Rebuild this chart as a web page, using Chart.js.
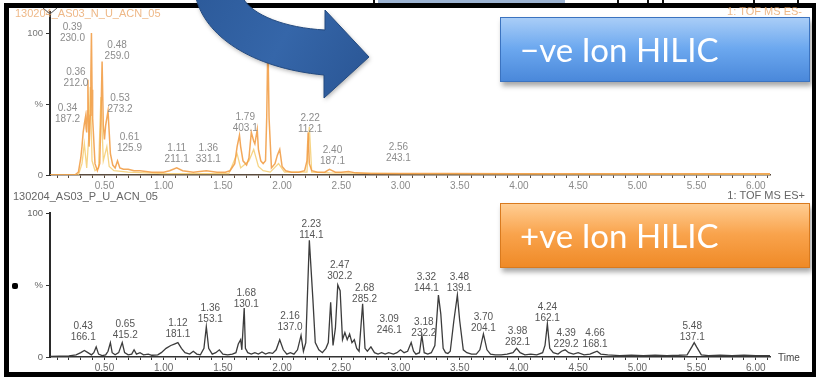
<!DOCTYPE html>
<html>
<head>
<meta charset="utf-8">
<script src="https://cdn.jsdelivr.net/npm/chart.js@4.4.1/dist/chart.umd.min.js"></script>
<style>
  html, body { margin: 0; padding: 0; background: #fff; }
  body { width: 816px; height: 379px; position: relative; overflow: hidden; font-family: "Liberation Sans", Arial, sans-serif; }
  .frame { position: absolute; left: 4px; top: 3px; width: 812px; height: 374px; box-sizing: border-box;
           border: 5px solid #000; border-right-width: 4px; border-top-width: 5px; }
  .strip { position: absolute; top: 0; height: 4px; }
  #negChart { position: absolute; left: 0; top: 0; }
  #posChart { position: absolute; left: 0; top: 190px; }
  .bullet { position: absolute; left: 12px; top: 283px; width: 6px; height: 6px; background: #000; border-radius: 2px; }
  .tag { position: absolute; left: 500px; width: 310px; height: 65px; box-sizing: border-box; color: #fff;
         font-family: Lato, "Open Sans", sans-serif; font-size: 33px; line-height: 63px; padding-left: 19px;
         box-shadow: 2px 4px 5px rgba(0,0,0,0.35); white-space: nowrap; }
  .tag.neg { top: 17px; background: linear-gradient(#a9cdf7, #6ca8ef 48%, #4a88da); border: 1px solid #3b73c0; }
  .tag.pos { top: 203px; background: linear-gradient(#ffcd92, #f9a34c 48%, #ef8a27); border: 1px solid #d97a1e; }
</style>
</head>
<body>
<div class="strip" style="left:378px;width:187px;background:#9cb3d2;"></div>
<div class="strip" style="left:373px;width:2px;background:#111;"></div>
<div class="strip" style="left:617px;width:2px;background:#111;"></div>
<div class="strip" style="left:647px;width:2px;background:#111;"></div>
<div class="strip" style="left:662px;width:2px;background:#111;"></div>
<div class="strip" style="left:753px;width:2px;background:#111;"></div>
<div class="strip" style="left:797px;width:2px;background:#111;"></div>
<div class="frame"></div>
<canvas id="negChart" width="816" height="192"></canvas>
<canvas id="posChart" width="816" height="189"></canvas>
<div class="bullet"></div>
<div class="tag neg">&minus;ve Ion HILIC</div>
<div class="tag pos">+ve Ion HILIC</div>

<script>
// Retention-time axis labels (minutes)
const xTickLabels = ['0.50','1.00','1.50','2.00','2.50','3.00','3.50','4.00','4.50','5.00','5.50','6.00'];
const yTickValues = [0, 50, 100];
const yTickLabels = ['0', '%', '100'];

// ES- run: main trace [time, % intensity]
const negTrace = [
  [0.04,0],[0.25,0],[0.28,2],[0.30,12],[0.31,20],[0.32,30],[0.33,36],[0.34,41],[0.345,33],[0.35,30],
  [0.355,45],[0.36,67],[0.365,40],[0.37,20],[0.38,42],[0.385,70],[0.39,100],[0.395,60],[0.40,40],[0.42,8],
  [0.44,3],[0.46,8],[0.47,40],[0.48,80],[0.49,35],[0.50,25],[0.51,35],[0.52,40],[0.53,45],[0.54,30],
  [0.55,15],[0.57,7],[0.59,5],[0.61,10],[0.63,5],[0.66,4],[0.70,4],[0.75,3],[0.80,3],[0.90,2],
  [1.00,2],[1.05,3],[1.11,5],[1.16,3],[1.25,2],[1.36,3],[1.45,2],[1.52,2],[1.56,3],[1.60,8],
  [1.62,20],[1.64,28],[1.65,20],[1.67,10],[1.70,7],[1.72,12],[1.74,30],[1.76,24],[1.77,22],[1.79,32],
  [1.80,18],[1.82,10],[1.84,8],[1.86,10],[1.87,40],[1.88,96],[1.89,40],[1.91,5],[1.94,8],[1.96,14],
  [1.98,18],[2.00,6],[2.03,3],[2.08,2],[2.14,2],[2.19,3],[2.21,10],[2.22,30],[2.23,8],[2.25,3],
  [2.30,2],[2.36,2],[2.40,4],[2.45,2],[2.50,2],[2.56,2.5],[2.62,1.5],[2.75,1],[3.00,1],[3.40,1],
  [4.00,0.8],[5.00,0.8],[6.12,0.8]
];
// ES- run: second (overlaid) trace
const negAltTrace = [
  [0.04,0],[0.28,0],[0.31,8],[0.33,22],[0.35,5],[0.37,30],[0.38,62],[0.395,10],[0.42,3],[0.45,5],
  [0.47,55],[0.49,10],[0.52,20],[0.54,6],[0.58,3],[0.70,2],[1.00,1],[1.55,1],[1.62,15],[1.65,5],
  [1.72,10],[1.76,18],[1.80,6],[1.84,3],[1.90,2],[1.97,8],[2.02,2],[2.21,2],[2.23,34],[2.25,2],
  [2.40,1.5],[3.00,1],[6.12,0.5]
];
// ES+ run trace
const posTrace = [
  [0.04,0.5],[0.20,0.8],[0.26,1.5],[0.30,3],[0.33,4.5],[0.36,3],[0.39,1.5],[0.41,3],[0.43,7],[0.45,2],
  [0.48,1],[0.51,1.5],[0.53,4],[0.55,10],[0.565,3],[0.59,1.5],[0.62,3],[0.65,10],[0.67,3],[0.70,1.5],
  [0.73,2],[0.75,5],[0.77,2],[0.80,3],[0.83,1.5],[0.87,2],[0.90,1.2],[0.95,1.5],[0.98,3],[1.02,6],
  [1.06,8],[1.09,9],[1.12,10],[1.15,6],[1.18,3],[1.22,2],[1.25,4],[1.28,2],[1.31,1.5],[1.34,6],
  [1.36,21],[1.38,6],[1.41,2],[1.44,3],[1.47,5],[1.50,2],[1.54,1.5],[1.58,2],[1.61,3],[1.63,9],
  [1.65,12],[1.66,5],[1.68,34],[1.69,6],[1.71,3],[1.74,2],[1.77,3],[1.80,2],[1.83,3.5],[1.86,2],
  [1.89,3],[1.92,2.5],[1.95,5],[1.98,12],[2.01,5],[2.04,2],[2.07,3],[2.10,2],[2.13,5],[2.16,15],
  [2.18,4],[2.20,10],[2.23,81],[2.26,40],[2.28,10],[2.31,5],[2.34,3],[2.37,6],[2.39,10],[2.41,38],
  [2.43,8],[2.45,20],[2.47,50],[2.49,46],[2.51,12],[2.53,17],[2.55,12],[2.57,16],[2.59,10],[2.61,12],
  [2.63,6],[2.65,4],[2.68,37],[2.70,6],[2.72,4],[2.75,7],[2.78,3],[2.81,2],[2.84,3],[2.87,2],
  [2.90,3],[2.94,2],[2.97,3],[3.00,5],[3.03,3],[3.06,4],[3.09,10],[3.11,4],[3.13,2],[3.16,3],
  [3.18,15],[3.20,3],[3.23,2],[3.26,3],[3.29,8],[3.32,43],[3.34,30],[3.36,6],[3.38,3],[3.40,2.5],
  [3.42,4],[3.45,25],[3.48,43],[3.50,25],[3.53,5],[3.56,3],[3.60,2],[3.64,2],[3.67,5],[3.70,16],
  [3.73,5],[3.76,2],[3.80,1.5],[3.85,1.5],[3.90,2],[3.95,3],[3.98,6],[4.01,3],[4.05,1.5],[4.10,2],
  [4.15,1.5],[4.20,3],[4.22,8],[4.24,23],[4.26,6],[4.29,3],[4.33,2],[4.36,4],[4.39,5],[4.42,3],
  [4.46,2],[4.50,3],[4.55,1.5],[4.60,2],[4.63,3],[4.66,4],[4.69,2],[4.75,1.5],[4.85,1],[4.95,1.2],
  [5.05,1],[5.15,1.3],[5.25,1],[5.35,1.2],[5.42,1.5],[5.46,7],[5.48,10],[5.50,7],[5.54,1.5],[5.60,1],
  [5.70,1.3],[5.80,1],[5.90,1.2],[6.00,1],[6.12,1]
];

// Annotated peaks: retention time and base m/z
const negPeakRT = [0.34, 0.36, 0.39, 0.48, 0.53, 0.61, 1.11, 1.36, 1.79, 2.22, 2.40, 2.56];
const negPeakMz = [187.2, 212.0, 230.0, 259.0, 273.2, 125.9, 211.1, 331.1, 403.1, 112.1, 187.1, 243.1];
const posPeakRT = [0.43, 0.65, 1.12, 1.36, 1.68, 2.16, 2.23, 2.47, 2.68, 3.09, 3.18, 3.32, 3.48, 3.70, 3.98, 4.24, 4.39, 4.66, 5.48];
const posPeakMz = [166.1, 415.2, 181.1, 153.1, 130.1, 137.0, 114.1, 302.2, 285.2, 246.1, 232.2, 144.1, 139.1, 204.1, 282.1, 162.1, 229.2, 168.1, 137.1];

// Label placement offsets (px) so neighbouring annotations do not collide
const negLabelShift = [[-18,10],[-12,11],[-19,13],[15,3],[12,6],[12,-5],[0,-1],[2,-3],[-12,7],[2,5],[3,0],[50,-5]];
const posLabelShift = [[-13,-2],[3,1],[0,0],[4,0],[2,4],[-11,0],[2,3],[2,-1],[2,4],[-22,-4],[2,6],[-12,1],[2,1],[0,2],[1,2],[0,2],[1,2],[-2,1],[-2,3]];

const FONT = '"Liberation Sans", Arial, sans-serif';
const toPoints = tr => tr.map(([t, v]) => ({ x: t, y: v }));

const peakLabels = {
  id: 'peakLabels',
  afterDatasetsDraw(chart, args, opts) {
    const { ctx, scales: { x, y } } = chart;
    const data = chart.data.datasets[0].data;
    ctx.save();
    ctx.font = '10px ' + FONT;
    ctx.fillStyle = opts.color;
    ctx.textAlign = 'center';
    ctx.textBaseline = 'middle';
    opts.rt.forEach((rt, i) => {
      const apex = data.reduce((b, d) => Math.abs(d.x - rt) < Math.abs(b.x - rt) ? d : b);
      const px = x.getPixelForValue(rt);
      const py = y.getPixelForValue(apex.y);
      const [dx, dy] = opts.shift[i] || [0, 0];
      const ly = py - 19 + dy;
      ctx.fillText(rt.toFixed(2), px + dx, ly);
      ctx.fillText(opts.mz[i].toFixed(1), px + dx, ly + 11);
    });
    ctx.restore();
  }
};

const headerText = {
  id: 'headerText',
  afterDraw(chart, args, opts) {
    const ctx = chart.ctx;
    ctx.save();
    ctx.font = '11px ' + FONT;
    ctx.textBaseline = 'middle';
    ctx.fillStyle = opts.color;
    ctx.textAlign = 'left';
    ctx.fillText(opts.run, opts.runX, opts.runY);
    ctx.textAlign = 'right';
    ctx.fillText(opts.fn, opts.fnX, opts.fnY);
    if (opts.time) {
      ctx.font = '10px ' + FONT;
      ctx.fillStyle = '#444';
      ctx.textAlign = 'left';
      ctx.fillText('Time', 778, chart.chartArea.bottom + 1);
    }
    ctx.restore();
  }
};

// Curved callout arrow and axis cap drawn over the ES- panel
const overlayArrow = {
  id: 'overlayArrow',
  afterDraw(chart) {
    const ctx = chart.ctx;
    ctx.save();
    ctx.strokeStyle = '#555';
    ctx.lineWidth = 1;
    ctx.beginPath();
    ctx.moveTo(43, 8); ctx.lineTo(50, 14); ctx.lineTo(57, 8);
    ctx.stroke();

    const g = ctx.createLinearGradient(200, 0, 360, 90);
    g.addColorStop(0, '#2d5b9b');
    g.addColorStop(0.5, '#3566a9');
    g.addColorStop(1, '#2b5796');
    ctx.shadowColor = 'rgba(0,0,0,0.3)';
    ctx.shadowBlur = 4;
    ctx.shadowOffsetX = 1;
    ctx.shadowOffsetY = 2;
    ctx.beginPath();
    ctx.moveTo(196, -2);
    ctx.bezierCurveTo(205, 35, 250, 68, 324, 75);
    ctx.lineTo(324, 98);
    ctx.lineTo(369, 57);
    ctx.lineTo(325, 10);
    ctx.lineTo(325, 30);
    ctx.bezierCurveTo(285, 28, 252, 15, 243, -2);
    ctx.closePath();
    ctx.fillStyle = g;
    ctx.fill();
    ctx.shadowColor = 'transparent';
    ctx.strokeStyle = '#234a80';
    ctx.lineWidth = 1;
    ctx.stroke();
    ctx.restore();
  }
};

function xScale(color, axisColor, height) {
  const majors = xTickLabels.map(Number);
  return {
    type: 'linear', min: 0.04, max: 6.12,
    afterFit(s) { s.height = height; },
    afterBuildTicks(s) {
      const t = [];
      for (let k = 1; k <= 61; k++) t.push({ value: k / 10 });
      s.ticks = t;
    },
    ticks: {
      autoSkip: false, maxRotation: 0, minRotation: 0, padding: 2, color,
      font: { size: 10, family: FONT },
      callback(v) {
        const i = majors.findIndex(m => Math.abs(m - v) < 1e-6);
        return i >= 0 ? xTickLabels[i] : '';
      }
    },
    grid: { drawOnChartArea: false, drawTicks: true, tickLength: 3, tickColor: axisColor, tickWidth: 1 },
    border: { display: true, color: axisColor, width: 1.5 }
  };
}

function yScale(max, color) {
  return {
    min: 0, max,
    afterFit(s) { s.width = 50; },
    afterBuildTicks(s) { s.ticks = yTickValues.map(v => ({ value: v })); },
    ticks: {
      padding: 3, color,
      font: { size: 9.5, family: FONT },
      callback(v, i) { return yTickLabels[i]; }
    },
    grid: { drawOnChartArea: false, drawTicks: true, tickLength: 4, tickColor: '#333', tickWidth: 1 },
    border: { display: true, color: '#2a2a2a', width: 2 }
  };
}

new Chart(document.getElementById('negChart'), {
  type: 'line',
  data: {
    datasets: [
      { data: toPoints(negTrace), borderColor: 'rgba(242,158,72,0.9)', borderWidth: 1.5, pointRadius: 0, tension: 0 },
      { data: toPoints(negAltTrace), borderColor: 'rgba(245,205,110,0.85)', borderWidth: 1.3, pointRadius: 0, tension: 0 }
    ]
  },
  options: {
    responsive: false, animation: false, events: [],
    layout: { padding: { top: 12, right: 46, left: 0, bottom: 0 } },
    scales: { x: xScale('#8a8a8a', '#5a4a3c', 17), y: yScale(114.8, '#777') },
    plugins: {
      legend: { display: false }, tooltip: { enabled: false },
      peakLabels: { rt: negPeakRT, mz: negPeakMz, shift: negLabelShift, color: '#8c8c8c' },
      headerText: { run: '130204_AS03_N_U_ACN_05', runX: 15, runY: 14, fn: '1: TOF MS ES-', fnX: 802, fnY: 12, color: 'rgba(232,160,95,0.75)' }
    }
  },
  plugins: [peakLabels, headerText, overlayArrow]
});

new Chart(document.getElementById('posChart'), {
  type: 'line',
  data: {
    datasets: [
      { data: toPoints(posTrace), borderColor: '#3c3c3c', borderWidth: 1.3, pointRadius: 0, tension: 0 }
    ]
  },
  options: {
    responsive: false, animation: false, events: [],
    layout: { padding: { top: 23, right: 46, left: 0, bottom: 0 } },
    scales: { x: xScale('#666', '#333', 22), y: yScale(100, '#666') },
    plugins: {
      legend: { display: false }, tooltip: { enabled: false },
      peakLabels: { rt: posPeakRT, mz: posPeakMz, shift: posLabelShift, color: '#555' },
      headerText: { run: '130204_AS03_P_U_ACN_05', runX: 13, runY: 7, fn: '1: TOF MS ES+', fnX: 805, fnY: 6, color: '#666', time: true }
    }
  },
  plugins: [peakLabels, headerText]
});
</script>
</body>
</html>
